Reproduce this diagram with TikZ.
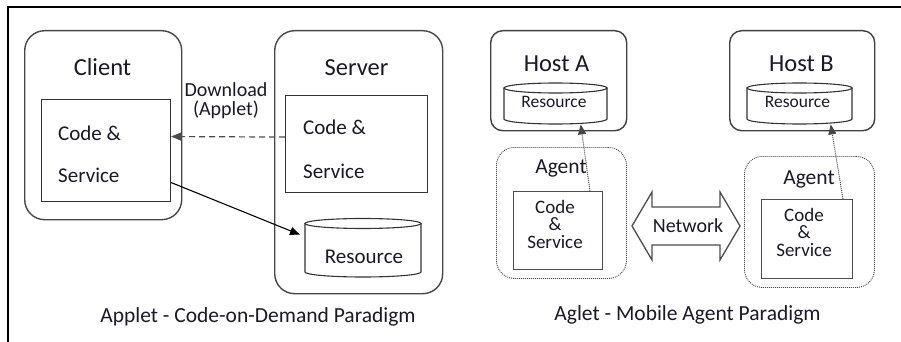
\documentclass[tikz,border=0pt]{standalone}
\usepackage{fontspec}
\setmainfont{Carlito}
\usetikzlibrary{arrows.meta}
\definecolor{txt}{RGB}{25,25,40}
\tikzset{
  every node/.style={text=txt, inner sep=0pt},
  rbox/.style={draw=black!72, line width=1.4pt, rounded corners=20pt, anchor=north west},
  hbox/.style={draw=black!75, line width=1.4pt, rounded corners=12pt, anchor=north west},
  sqbox/.style={draw=black!80, line width=1.1pt, anchor=north west},
  thinbox/.style={draw=black!70, line width=0.9pt, anchor=north west},
  dotbox/.style={draw=black!72, line width=0.9pt, dash pattern=on 1pt off 1pt, rounded corners=18pt, anchor=north west},
  cyl/.style={draw=black!80, line width=1.1pt},
  lbl/.style={anchor=base},
  big/.style={font=\fontsize{24.5}{28}\selectfont},
  mid/.style={font=\fontsize{21}{25}\selectfont},
  stack/.style={align=center, font=\fontsize{19}{17.5}\selectfont},
  tiny/.style={font=\fontsize{17.5}{20}\selectfont},
  tip/.style={-{Triangle[length=10pt,width=8pt]}},
}
\begin{document}
\begin{tikzpicture}[x=1pt,y=-1pt]
\useasboundingbox (0,0) rectangle (901,342);
\fill[white] (0,0) rectangle (901,342);
% frame
\draw[line width=2pt, black] (8,342) -- (8,7) -- (901,7);

% ---------- left: Applet ----------
\node[rbox, minimum width=157pt, minimum height=189pt] (client) at (24,30) {};
\node[lbl, big] (clientlbl) at (102.5,76) {Client};
\node[sqbox, minimum width=129pt, minimum height=102pt] (ccode) at (41,99) {};
\node[anchor=base west, mid] (cc1) at (58,140) {Code \&};
\node[anchor=base west, mid] (cc2) at (58,182) {Service};

\node[rbox, minimum width=168pt, minimum height=263pt] (server) at (274,30) {};
\node[lbl, big] (serverlbl) at (356.5,76) {Server};
\node[sqbox, minimum width=142pt, minimum height=97pt] (scode) at (285,95) {};
\node[anchor=base west, mid] (sc1) at (303,134) {Code \&};
\node[anchor=base west, mid] (sc2) at (303,178) {Service};

% resource cylinder (server)
\node[minimum width=116pt, minimum height=59pt, anchor=north west] (res) at (305,218) {};
\draw[cyl] (363,223.5) ellipse [x radius=58pt, y radius=5pt];
\draw[cyl] (305,223.5) -- (305,272) arc[start angle=180, end angle=360, x radius=58pt, y radius=5pt] -- (421,223.5);
\node[lbl, mid] (reslbl) at (364,263) {Resource};

\node[lbl, font=\fontsize{20}{22}\selectfont] (dl1) at (226,96) {Download};
\node[lbl, font=\fontsize{20}{22}\selectfont] (dl2) at (226,116) {(Applet)};

\draw[tip, black!70, line width=1.2pt, dash pattern=on 6pt off 4pt] ([yshift=7pt]scode.west) -- ([yshift=14pt]ccode.east);
\draw[tip, black, line width=1.1pt] ([yshift=-32pt]ccode.east) -- ([xshift=-5pt,yshift=13pt]res.west);

\node[lbl, font=\fontsize{21.5}{24}\selectfont] (cap1) at (258,322) {Applet - Code-on-Demand Paradigm};

% ---------- right: Aglet ----------
\node[hbox, minimum width=136pt, minimum height=100pt] (hostA) at (490,30) {};
\node[lbl, big] (hostAlbl) at (556.5,72) {Host A};
\node[minimum width=103pt, minimum height=41pt, anchor=north west] (resA) at (504,83) {};
\draw[cyl] (555.5,88) ellipse [x radius=51.5pt, y radius=5pt];
\draw[cyl] (504,88) -- (504,119) arc[start angle=180, end angle=360, x radius=51.5pt, y radius=5pt] -- (607,88);
\node[lbl, tiny] (resAlbl) at (554,108) {Resource};

\node[hbox, minimum width=145pt, minimum height=100pt] (hostB) at (729,30) {};
\node[lbl, big] (hostBlbl) at (801.5,72) {Host B};
\node[minimum width=105pt, minimum height=41pt, anchor=north west] (resB) at (747,83) {};
\draw[cyl] (799.5,88) ellipse [x radius=52.5pt, y radius=5pt];
\draw[cyl] (747,88) -- (747,119) arc[start angle=180, end angle=360, x radius=52.5pt, y radius=5pt] -- (852,88);
\node[lbl, tiny] (resBlbl) at (797.5,108) {Resource};

\node[dotbox, minimum width=130pt, minimum height=131pt] (agentA) at (496,147) {};
\node[lbl, font=\fontsize{21.5}{24}\selectfont] (agentAlbl) at (561,173) {Agent};
\node[thinbox, minimum width=89pt, minimum height=78pt] (codeA) at (513,191) {};
\node[stack] (catext) at (555,224) {Code\\\&\\Service};

\node[dotbox, minimum width=130pt, minimum height=131pt] (agentB) at (744,156) {};
\node[lbl, font=\fontsize{21.5}{24}\selectfont] (agentBlbl) at (809,184) {Agent};
\node[thinbox, minimum width=91pt, minimum height=79pt] (codeB) at (761,199) {};
\node[stack] (cbtext) at (804,232) {Code\\\&\\Service};

\draw[tip, black!72, line width=1pt, dash pattern=on 1pt off 1pt] ([xshift=32pt]codeA.north) -- ([xshift=25pt]resA.south);
\draw[tip, black!72, line width=1pt, dash pattern=on 1pt off 1pt] ([xshift=36pt]codeB.north) -- ([xshift=31pt]resB.south);

% network double arrow
\draw[black!70, line width=1.3pt, line join=miter]
  (632,226) -- (652,192) -- (652,207) -- (720,207) -- (720,192) -- (740,226)
  -- (720,260) -- (720,245) -- (652,245) -- (652,260) -- cycle;
\node[lbl, font=\fontsize{20}{22}\selectfont] (net) at (688,232) {Network};

\node[lbl, font=\fontsize{21.5}{24}\selectfont] (cap2) at (687.5,320) {Aglet - Mobile Agent Paradigm};
\end{tikzpicture}
\end{document}
